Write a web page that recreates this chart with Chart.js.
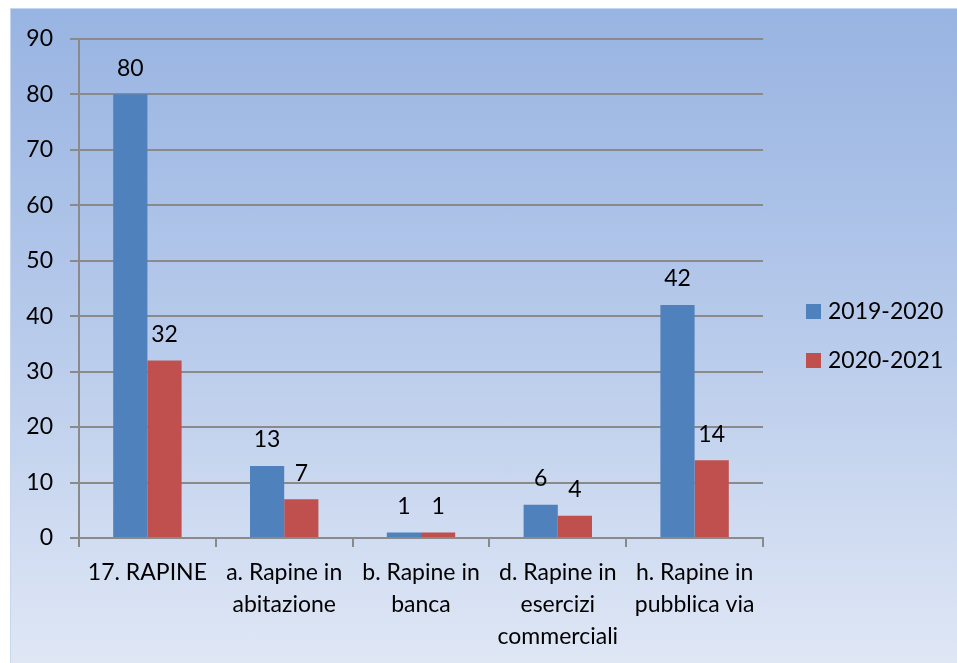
<!DOCTYPE html>
<html>
<head>
<meta charset="utf-8">
<script src="https://cdn.jsdelivr.net/npm/chart.js@4/dist/chart.umd.min.js"></script>
<style>
  html, body { margin:0; padding:0; background:#fff; }
  #box {
    position:absolute; left:10px; top:8px; width:947px; height:655px;
    background:linear-gradient(to bottom, #98b4e2 0%, #b4c8ea 45%, #dfe7f5 100%);
    box-shadow: inset 0 1px 0 #c6d6ee, inset 1px 0 0 #c6d6ee;
  }
  canvas { display:block; }
</style>
</head>
<body>
<div id="box"><canvas id="c" width="947" height="655"></canvas></div>
<script>
// ─── Dati ────────────────────────────────────────────────────────────────────
const categories = [
  '17. RAPINE',
  ['a. Rapine in', 'abitazione'],
  ['b. Rapine in', 'banca'],
  ['d. Rapine in', 'esercizi', 'commerciali'],
  ['h. Rapine in', 'pubblica via']
];
const seriesNames = ['2019-2020', '2020-2021'];
const values1920 = [80, 13, 1, 6, 42];
const values2021 = [32, 7, 1, 4, 14];
const yMax = 90, yStep = 10;

const FONT = 'Lato, "Open Sans", sans-serif';
const FSIZE = 23;
const BLUE = '#4f81bd', RED = '#c0504d', GRID = '#8a8a8a';

// etichette sopra le barre
const valueLabels = {
  id: 'valueLabels',
  afterDatasetsDraw(chart) {
    const ctx = chart.ctx;
    ctx.save();
    ctx.font = FSIZE + 'px ' + FONT;
    ctx.fillStyle = '#000';
    ctx.textAlign = 'center';
    ctx.textBaseline = 'middle';
    chart.data.datasets.forEach((ds, i) => {
      chart.getDatasetMeta(i).data.forEach((bar, j) => {
        ctx.fillText(ds.data[j], bar.x, bar.y - 26);
      });
    });
    ctx.restore();
  }
};

// legenda a destra
const sideLegend = {
  id: 'sideLegend',
  afterDraw(chart) {
    const ctx = chart.ctx, ca = chart.chartArea;
    const x = ca.right + 43;
    const yMid = chart.height / 2;
    ctx.save();
    ctx.font = FSIZE + 'px ' + FONT;
    ctx.textBaseline = 'middle';
    chart.data.datasets.forEach((ds, i) => {
      const y = yMid + (i - 0.5) * 49;
      ctx.fillStyle = ds.backgroundColor;
      ctx.fillRect(x, y - 7, 15, 15);
      ctx.fillStyle = '#000';
      ctx.fillText(ds.label, x + 22, y + 1);
    });
    ctx.restore();
  }
};

new Chart(document.getElementById('c'), {
  type: 'bar',
  data: {
    labels: categories,
    datasets: [
      { label: seriesNames[0], data: values1920, backgroundColor: BLUE },
      { label: seriesNames[1], data: values2021, backgroundColor: RED }
    ]
  },
  options: {
    responsive: false,
    animation: false,
    categoryPercentage: 0.5,
    barPercentage: 1,
    layout: { padding: { top: 16, right: 194, left: 0, bottom: 0 } },
    plugins: { legend: { display: false }, tooltip: { enabled: false } },
    scales: {
      x: {
        grid: { drawOnChartArea: false, drawTicks: true, tickLength: 9, color: GRID, lineWidth: 2 },
        border: { color: GRID, width: 2 },
        ticks: { color: '#000', font: { family: FONT, size: FSIZE, lineHeight: 1.38 }, padding: 10, maxRotation: 0, autoSkip: false },
        afterFit(s) { s.height = 125; }
      },
      y: {
        min: 0, max: yMax,
        grid: { color: GRID, lineWidth: 2, tickLength: 9 },
        border: { color: GRID, width: 2 },
        ticks: { stepSize: yStep, color: '#000', font: { family: FONT, size: FSIZE }, padding: 17 },
        afterFit(s) { s.width = 69; }
      }
    }
  },
  plugins: [valueLabels, sideLegend]
});
</script>
</body>
</html>
